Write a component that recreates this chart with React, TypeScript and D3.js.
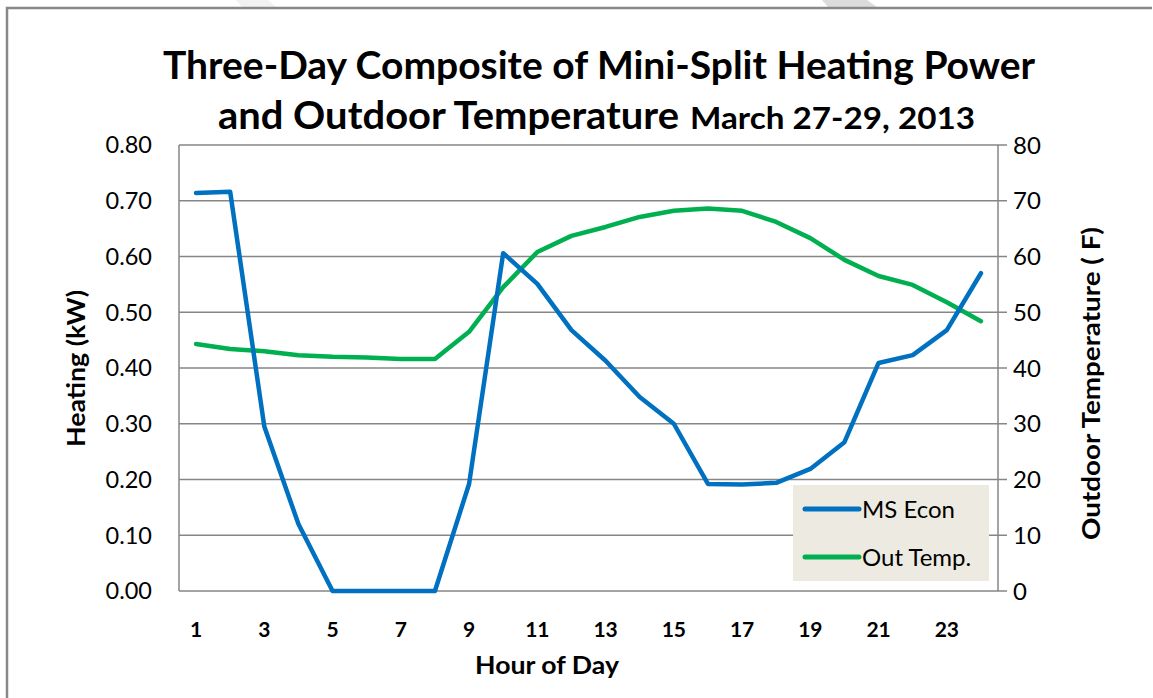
import React from "react";
import * as d3 from "d3";

const hours = [1,2,3,4,5,6,7,8,9,10,11,12,13,14,15,16,17,18,19,20,21,22,23,24];
const msEcon = [0.714,0.716,0.295,0.12,0,0,0,0,0.192,0.606,0.551,0.468,0.413,0.348,0.30,0.192,0.191,0.194,0.219,0.267,0.409,0.423,0.468,0.570];
const outTemp = [44.3,43.4,43.0,42.3,42.0,41.9,41.6,41.6,46.5,54.5,60.8,63.7,65.3,67.1,68.2,68.6,68.2,66.2,63.3,59.4,56.5,54.9,51.8,48.4];
const leftTicks = [0,0.1,0.2,0.3,0.4,0.5,0.6,0.7,0.8];
const rightTicks = [0,10,20,30,40,50,60,70,80];
const xTickLabels = [1,3,5,7,9,11,13,15,17,19,21,23];
const seriesNames = ["MS Econ", "Out Temp."];

const FONT = "Lato, 'Open Sans', sans-serif";
const GRID = "#868686";
const BLUE = "#0070C0";
const GREEN = "#00B050";

export default function App() {
  const W = 1153, H = 698;
  const left = 179, right = 998, top = 145, bottom = 591;
  const x = d3.scaleBand<number>().domain(hours).range([left, right]);
  const xc = (h: number) => (x(h) as number) + x.bandwidth() / 2;
  const yL = d3.scaleLinear().domain([0, 0.8]).range([bottom, top]);
  const yR = d3.scaleLinear().domain([0, 80]).range([bottom, top]);
  const lineL = d3.line<number>().x((_, i) => xc(hours[i])).y(d => yL(d));
  const lineR = d3.line<number>().x((_, i) => xc(hours[i])).y(d => yR(d));

  return (
    <svg width={W} height={H} style={{ position: "absolute", left: 0, top: 0 }}>
      <rect x={0} y={0} width={W} height={H} fill="#fff" />
      <polygon points="822,0 867,0 877,7 828,7" fill="#dcdcdc" />
      <polygon points="236,0 268,0 276,7 242,7" fill="#f2f2f2" />
      <path d={`M7,${H} L7,8 L1152,8`} fill="none" stroke="#888" strokeWidth={2.5} />

      <text x={163} y={79} textLength={872} lengthAdjust="spacingAndGlyphs" fontFamily={FONT} fontWeight="bold" fontSize={39} fill="#000">
        Three-Day Composite of Mini-Split Heating Power
      </text>
      <text x={218} y={129} textLength={461} lengthAdjust="spacingAndGlyphs" fontFamily={FONT} fontWeight="bold" fontSize={39} fill="#000">
        and Outdoor Temperature
      </text>
      <text x={690} y={129} textLength={285} lengthAdjust="spacingAndGlyphs" fontFamily={FONT} fontWeight="bold" fontSize={30} fill="#000">
        March 27-29, 2013
      </text>

      {leftTicks.map((t, i) => (
        <line key={"g" + i} x1={left} x2={right + 9} y1={yL(t)} y2={yL(t)} stroke={GRID} strokeWidth={1.5} />
      ))}
      <line x1={left} x2={left} y1={top} y2={bottom} stroke={GRID} strokeWidth={1.5} />
      <line x1={right} x2={right} y1={top} y2={bottom} stroke={GRID} strokeWidth={1.5} />

      {leftTicks.map((t, i) => (
        <text key={"l" + i} x={152} y={yL(t)} dy="0.36em" textAnchor="end" fontFamily={FONT} fontSize={23.5} fill="#000">
          {t.toFixed(2)}
        </text>
      ))}
      {rightTicks.map((t, i) => (
        <text key={"r" + i} x={1013} y={yR(t)} dy="0.36em" textAnchor="start" fontFamily={FONT} fontSize={24} fill="#000">
          {t}
        </text>
      ))}
      {xTickLabels.map((h, i) => (
        <text key={"x" + i} x={xc(h)} y={629} dy="0.36em" textAnchor="middle" fontFamily={FONT} fontWeight="bold" fontSize={21} fill="#000">
          {h}
        </text>
      ))}

      <text x={475} y={665} dy="0.36em" textLength={144} lengthAdjust="spacingAndGlyphs" fontFamily={FONT} fontWeight="bold" fontSize={24} fill="#000">Hour of Day</text>
      <text transform={`translate(76,447) rotate(-90)`} dy="0.36em" textLength={157} lengthAdjust="spacingAndGlyphs" fontFamily={FONT} fontWeight="bold" fontSize={24} fill="#000">Heating (kW)</text>
      <text transform={`translate(1091,540) rotate(-90)`} dy="0.36em" textLength={313} lengthAdjust="spacingAndGlyphs" fontFamily={FONT} fontWeight="bold" fontSize={24} fill="#000">Outdoor Temperature ( F)</text>

      <path d={lineR(outTemp) || ""} fill="none" stroke={GREEN} strokeWidth={4.5} strokeLinejoin="round" strokeLinecap="round" />
      <path d={lineL(msEcon) || ""} fill="none" stroke={BLUE} strokeWidth={4.5} strokeLinejoin="round" strokeLinecap="round" />

      <rect x={793} y={485} width={196} height={96} fill="#EDEBE1" />
      {seriesNames.map((n, i) => (
        <g key={"lg" + i}>
          <line x1={805} x2={859} y1={509 + i * 48} y2={509 + i * 48} stroke={i === 0 ? BLUE : GREEN} strokeWidth={5} strokeLinecap="round" />
          <text x={862} y={509 + i * 48} dy="0.36em" fontFamily={FONT} fontSize={24} fill="#000">{n}</text>
        </g>
      ))}
    </svg>
  );
}
